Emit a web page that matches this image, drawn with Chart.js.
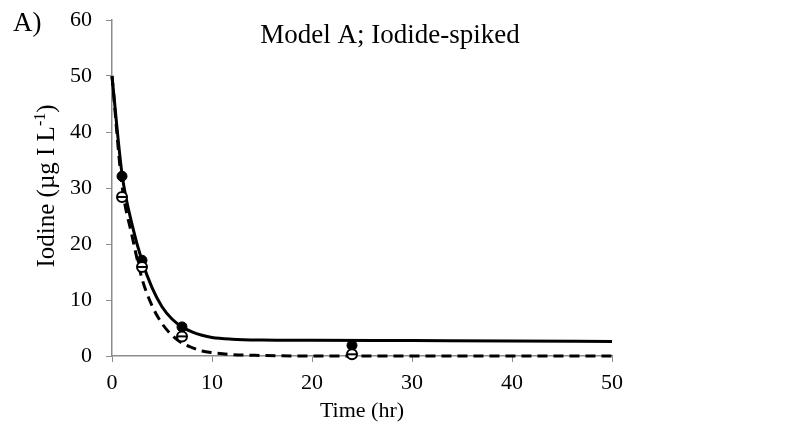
<!DOCTYPE html>
<html>
<head>
<meta charset="utf-8">
<script src="https://cdn.jsdelivr.net/npm/chart.js@4/dist/chart.umd.min.js"></script>
<style>
html,body{margin:0;padding:0;background:#fff;}
#wrap{width:801px;height:446px;position:relative;}
</style>
</head>
<body>
<div id="wrap"><canvas id="c" width="801" height="446"></canvas></div>
<script>
// Model curves
const modelTimes      = [0, 1, 2, 3, 4, 5, 6, 7, 8, 9, 10, 12, 15, 20, 30, 40, 50];
const modelSolid      = [50, 32.5, 23.5, 17.0, 12.2, 8.8, 6.6, 5.2, 4.3, 3.7, 3.3, 3.0, 2.85, 2.8, 2.75, 2.7, 2.6];
const modelDashed     = [50, 30.5, 21.5, 13.8, 9.0, 5.8, 3.7, 2.3, 1.5, 0.9, 0.6, 0.25, 0.1, 0.0, 0.0, 0.0, 0.0];
// Observations
const obsTimes        = [1, 3, 7, 24];
const obsFilled       = [32.1, 17.1, 5.2, 1.9];
const obsOpen         = [28.4, 15.9, 3.5, 0.3];
// Axes
const xTicks          = [0, 10, 20, 30, 40, 50];
const yTicks          = [0, 10, 20, 30, 40, 50, 60];
const titleText       = 'Model A; Iodide-spiked';
const panelLabel      = 'A)';
const xTitle          = 'Time (hr)';

const pts = (xs, ys) => xs.map((x, i) => ({x: x, y: ys[i]}));
const SERIF = '"Liberation Serif", "Times New Roman", serif';

const textPlugin = {
  id: 'texts',
  afterDraw(chart) {
    const ctx = chart.ctx;
    const ca = chart.chartArea;
    ctx.save();
    ctx.fillStyle = '#000';
    ctx.textBaseline = 'alphabetic';
    // title
    ctx.font = '27px ' + SERIF;
    ctx.textAlign = 'center';
    ctx.fillText(titleText, 390, 43);
    // panel label
    ctx.textAlign = 'left';
    ctx.font = '27px ' + SERIF;
    ctx.fillText(panelLabel, 13, 31);
    // x title
    ctx.textAlign = 'center';
    ctx.font = '22px ' + SERIF;
    ctx.fillText(xTitle, (ca.left + ca.right) / 2, 417);
    // y title with superscript
    ctx.translate(54, 186);
    ctx.rotate(-Math.PI / 2);
    const main = 'Iodine (µg I L';
    const sup = '-1';
    const close = ')';
    ctx.font = '25px ' + SERIF;
    const w1 = ctx.measureText(main).width;
    const w3 = ctx.measureText(close).width;
    ctx.font = '16px ' + SERIF;
    const w2 = ctx.measureText(sup).width;
    const total = w1 + w2 + w3;
    let x0 = -total / 2;
    ctx.textAlign = 'left';
    ctx.font = '25px ' + SERIF;
    ctx.fillText(main, x0, 0);
    ctx.font = '16px ' + SERIF;
    ctx.fillText(sup, x0 + w1, -9);
    ctx.font = '25px ' + SERIF;
    ctx.fillText(close, x0 + w1 + w2, 0);
    ctx.restore();
  }
};

new Chart(document.getElementById('c'), {
  type: 'scatter',
  data: {
    datasets: [
      {
        data: pts(modelTimes, modelSolid),
        showLine: true, borderColor: '#000', borderWidth: 3, clip: false,
        pointRadius: 0, cubicInterpolationMode: 'monotone', fill: false, order: 5
      },
      {
        data: pts(modelTimes, modelDashed),
        showLine: true, borderColor: '#000', borderWidth: 3, borderDash: [10, 6], clip: false,
        pointRadius: 0, cubicInterpolationMode: 'monotone', fill: false, order: 4
      },
      {
        data: pts(obsTimes, obsFilled),
        showLine: false, pointStyle: 'circle', pointRadius: 5, clip: false,
        backgroundColor: '#000', borderColor: '#000', borderWidth: 1, order: 3
      },
      {
        data: pts(obsTimes, obsOpen),
        showLine: false, pointStyle: 'circle', pointRadius: 5, clip: false,
        backgroundColor: '#fff', borderColor: '#000', borderWidth: 2, order: 2
      },
      {
        data: pts(obsTimes, obsOpen),
        showLine: false, pointStyle: 'line', pointRadius: 4, clip: false,
        borderColor: '#000', borderWidth: 2, order: 1
      }
    ]
  },
  options: {
    responsive: false,
    animation: false,
    devicePixelRatio: 1,
    layout: { padding: { top: 20, right: 189, bottom: 0, left: 0 } },
    plugins: { legend: { display: false }, tooltip: { enabled: false }, title: { display: false } },
    scales: {
      x: {
        type: 'linear', min: 0, max: 50,
        afterBuildTicks: s => { s.ticks = xTicks.map(v => ({value: v})); },
        afterFit: s => { s.height = 90; s.paddingLeft = 0; s.paddingRight = 0; },
        grid: { drawOnChartArea: false, drawTicks: true, tickLength: 6, color: '#8c8c8c', lineWidth: 1 },
        border: { display: true, color: '#8c8c8c', width: 1.5 },
        ticks: { color: '#000', font: { family: SERIF, size: 22 }, padding: 8, maxRotation: 0 }
      },
      y: {
        type: 'linear', min: 0, max: 60,
        afterBuildTicks: s => { s.ticks = yTicks.map(v => ({value: v})); },
        afterFit: s => { s.width = 112; s.paddingTop = 0; s.paddingBottom = 0; },
        grid: { drawOnChartArea: false, drawTicks: true, tickLength: 6, color: '#8c8c8c', lineWidth: 1 },
        border: { display: true, color: '#8c8c8c', width: 1.5 },
        ticks: { color: '#000', font: { family: SERIF, size: 22 }, padding: 14 }
      }
    }
  },
  plugins: [textPlugin]
});
</script>
</body>
</html>
